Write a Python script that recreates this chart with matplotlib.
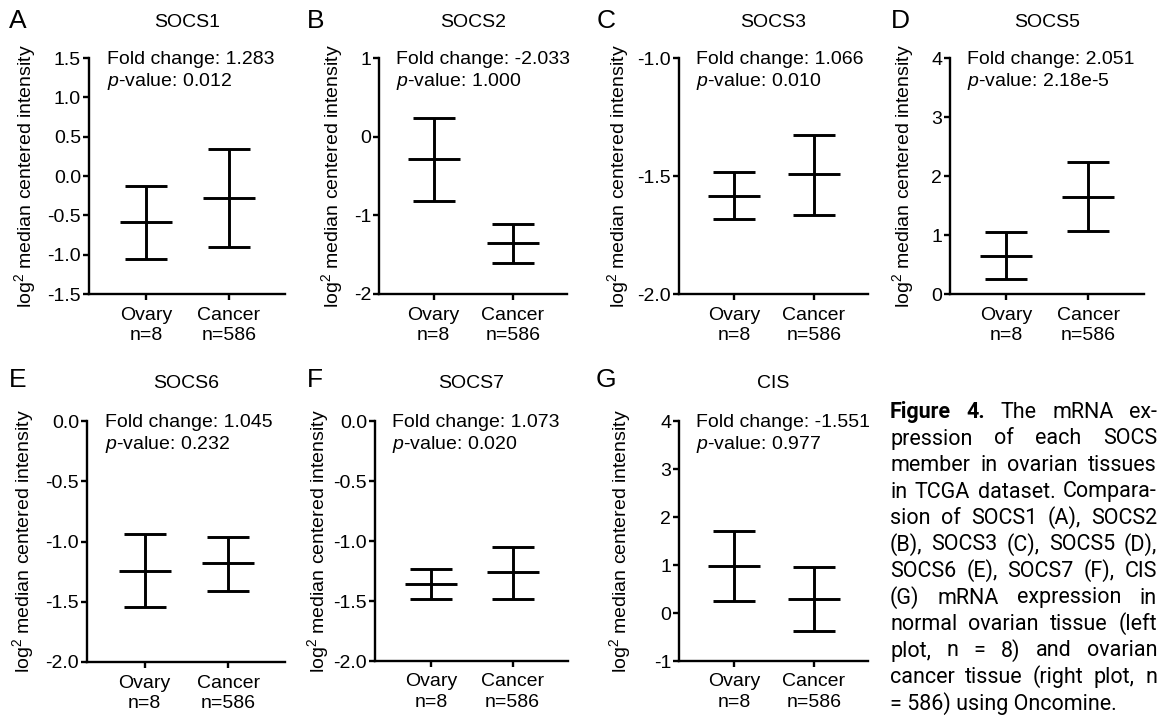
import matplotlib
matplotlib.use('Agg')
import matplotlib.pyplot as plt

plt.rcParams['font.family'] = ['Liberation Sans', 'DejaVu Sans']
plt.rcParams['axes.unicode_minus'] = False
plt.rcParams['mathtext.fontset'] = 'custom'
plt.rcParams['mathtext.rm'] = 'Liberation Sans'
plt.rcParams['mathtext.it'] = 'Liberation Sans:italic'
plt.rcParams['mathtext.default'] = 'regular'

# data
genes = ['SOCS1', 'SOCS2', 'SOCS3', 'SOCS5', 'SOCS6', 'SOCS7', 'CIS']
letters = ['A', 'B', 'C', 'D', 'E', 'F', 'G']
fold_change = ['1.283', '-2.033', '1.066', '2.051', '1.045', '1.073', '-1.551']
p_values = ['0.012', '1.000', '0.010', '2.18e-5', '0.232', '0.020', '0.977']
groups = ['Ovary\nn=8', 'Cancer\nn=586']

ovary_mean = [-0.59, -0.29, -1.583, 0.65, -1.241, -1.358, 0.972]
ovary_low = [-1.05, -0.82, -1.682, 0.25, -1.546, -1.481, 0.243]
ovary_high = [-0.13, 0.24, -1.483, 1.045, -0.939, -1.236, 1.70]
cancer_mean = [-0.28, -1.35, -1.493, 1.65, -1.177, -1.261, 0.30]
cancer_low = [-0.90, -1.60, -1.666, 1.07, -1.407, -1.486, -0.368]
cancer_high = [0.347, -1.104, -1.325, 2.233, -0.964, -1.047, 0.951]

y_ticks = [
    [-1.5, -1.0, -0.5, 0.0, 0.5, 1.0, 1.5],
    [-2, -1, 0, 1],
    [-2.0, -1.5, -1.0],
    [0, 1, 2, 3, 4],
    [-2.0, -1.5, -1.0, -0.5, 0.0],
    [-2.0, -1.5, -1.0, -0.5, 0.0],
    [-1, 0, 1, 2, 3, 4],
]
y_fmt = ['%.1f', '%d', '%.1f', '%d', '%.1f', '%.1f', '%d']

caption_lines = [
    'Figure 4. The mRNA ex-',
    'pression of each SOCS',
    'member in ovarian tissues',
    'in TCGA dataset. Compara-',
    'sion of SOCS1 (A), SOCS2',
    '(B), SOCS3 (C), SOCS5 (D),',
    'SOCS6 (E), SOCS7 (F), CIS',
    '(G) mRNA expression in',
    'normal ovarian tissue (left',
    'plot, n = 8) and ovarian',
    'cancer tissue (right plot, n',
    '= 586) using Oncomine.',
]

W, H = 1163, 717
# axes boxes in pixels: left, top, right, bottom
boxes = [
    (89, 58, 285, 294), (379, 58, 567, 294), (679, 58, 868, 294), (950, 58, 1144, 294),
    (87, 421, 285, 662), (375, 421, 568, 661), (679, 421, 868, 661),
]
letter_x = [9, 307, 597, 891, 9, 307, 596]
ylabel_x = [38, 345, 631, 916, 36, 331, 633]   # right edge of y label, px

fig = plt.figure(figsize=(W / 100, H / 100), dpi=100)
fs = 14

for i in range(7):
    l, t, r, b = boxes[i]
    ax = fig.add_axes([l / W, 1 - b / H, (r - l) / W, (b - t) / H])
    for x, m, lo, hi in [(0, ovary_mean[i], ovary_low[i], ovary_high[i]),
                         (1, cancer_mean[i], cancer_low[i], cancer_high[i])]:
        ax.errorbar([x], [m], yerr=[[m - lo], [hi - m]], fmt='_', color='black',
                    markersize=37, mew=2.1, elinewidth=2.1, capsize=14.8, capthick=2.1)
    ax.set_xlim(-0.69, 1.68)
    ax.set_ylim(min(y_ticks[i]), max(y_ticks[i]))
    ax.set_yticks(y_ticks[i])
    ax.set_yticklabels([y_fmt[i] % v for v in y_ticks[i]], fontsize=fs)
    ax.set_xticks([0, 1])
    ax.set_xticklabels(groups, fontsize=fs, linespacing=1.3)
    for s in ['top', 'right']:
        ax.spines[s].set_visible(False)
    for s in ['left', 'bottom']:
        ax.spines[s].set_linewidth(1.7)
    ax.tick_params(axis='y', length=4.5, width=1.7, pad=1.2)
    ax.tick_params(axis='x', length=4, width=1.7, pad=5)
    ax.set_ylabel('log$^2$ median centered intensity', fontsize=fs)
    ax.yaxis.set_label_coords((ylabel_x[i] - l) / (r - l), 0.5)
    pad = 22 if i < 4 else 24
    ax.set_title(genes[i], fontsize=fs, pad=pad)
    ax.text(0.09, 1.03, 'Fold change: ' + fold_change[i] + '\n$\\mathit{p}$-value: ' + p_values[i],
            transform=ax.transAxes, fontsize=fs, va='top', ha='left', linespacing=1.2)
    base = 28 if i < 4 else 387
    fig.text(letter_x[i] / W, 1 - base / H, letters[i], fontsize=19, va='baseline')

# justified caption
cap_font = ['Roboto', 'DejaVu Sans']
cap_fs = 15.5
x0, x1 = 890, 1157
y0, dy = 418, 26.5
renderer = fig.canvas.get_renderer()
for k, line in enumerate(caption_lines):
    y = 1 - (y0 + k * dy) / H
    words = line.split(' ')
    if k == len(caption_lines) - 1:
        fig.text(x0 / W, y, line, fontsize=cap_fs, family=cap_font, va='baseline')
        continue
    objs = []
    for j, w in enumerate(words):
        bold = (k == 0 and j < 2)
        objs.append(fig.text(0, y, w, fontsize=cap_fs, family=cap_font, va='baseline',
                             fontweight='bold' if bold else 'normal'))
    widths = [o.get_window_extent(renderer).width for o in objs]
    gap = (x1 - x0 - sum(widths)) / (len(objs) - 1)
    x = x0
    for o, wd in zip(objs, widths):
        o.set_x(x / W)
        x += wd + gap

fig.savefig('out.png', dpi=100)
